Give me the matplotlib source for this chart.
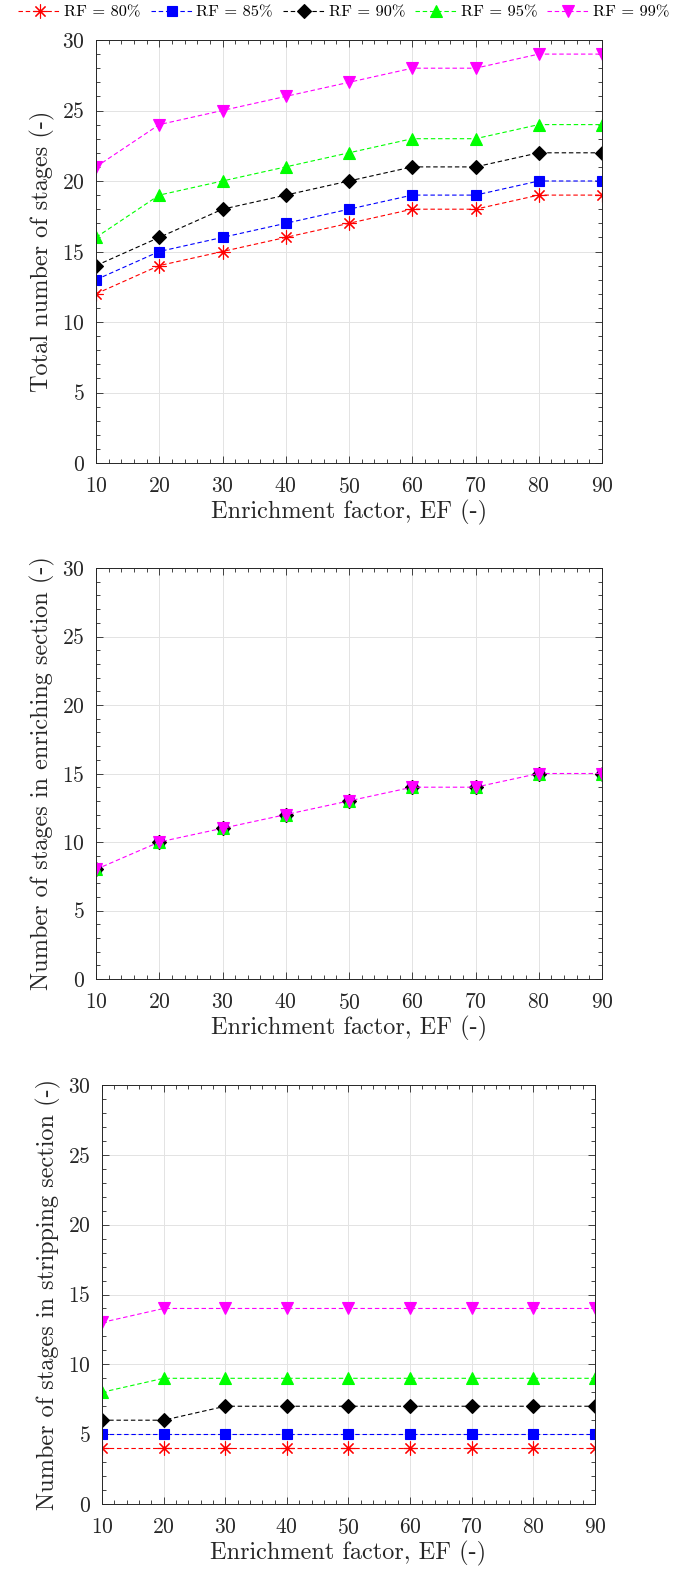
import matplotlib
matplotlib.use("Agg")
import matplotlib.pyplot as plt
from matplotlib.ticker import MultipleLocator

plt.rcParams['font.family'] = ['cmr10', 'DejaVu Serif']
plt.rcParams['axes.formatter.use_mathtext'] = True
plt.rcParams['mathtext.fontset'] = 'cm'

ef = [10, 20, 30, 40, 50, 60, 70, 80, 90]
rf_labels = ['RF = 80%', 'RF = 85%', 'RF = 90%', 'RF = 95%', 'RF = 99%']

# total number of stages
total_80 = [12, 14, 15, 16, 17, 18, 18, 19, 19]
total_85 = [13, 15, 16, 17, 18, 19, 19, 20, 20]
total_90 = [14, 16, 18, 19, 20, 21, 21, 22, 22]
total_95 = [16, 19, 20, 21, 22, 23, 23, 24, 24]
total_99 = [21, 24, 25, 26, 27, 28, 28, 29, 29]

# enriching section (same for all RF)
enrich_80 = [8, 10, 11, 12, 13, 14, 14, 15, 15]
enrich_85 = [8, 10, 11, 12, 13, 14, 14, 15, 15]
enrich_90 = [8, 10, 11, 12, 13, 14, 14, 15, 15]
enrich_95 = [8, 10, 11, 12, 13, 14, 14, 15, 15]
enrich_99 = [8, 10, 11, 12, 13, 14, 14, 15, 15]

# stripping section
strip_80 = [4, 4, 4, 4, 4, 4, 4, 4, 4]
strip_85 = [5, 5, 5, 5, 5, 5, 5, 5, 5]
strip_90 = [6, 6, 7, 7, 7, 7, 7, 7, 7]
strip_95 = [8, 9, 9, 9, 9, 9, 9, 9, 9]
strip_99 = [13, 14, 14, 14, 14, 14, 14, 14, 14]

colors = ['#ff0000', '#0000ff', '#000000', '#00ff00', '#ff00ff']
markers = [(8, 2, 0), 's', 'D', '^', 'v']
msizes = [10, 6.5, 7, 9, 9]


def draw(ax, series, ylabel, overlap=False):
    lines = []
    n = len(series)
    for i, (ys, c, m, s, lab) in enumerate(zip(series, colors, markers, msizes, rf_labels)):
        # identical curves: the top one hides the dashes of the others
        ls = 'none' if (overlap and i < n - 1) else (0, (4, 2.5))
        ln, = ax.plot(ef, ys, ls=ls, lw=0.8, color=c,
                      marker=m, ms=s, mfc=c, mec=c, mew=0.8, label=lab)
        lines.append(ln)
    ax.set_xlim(10, 90)
    ax.set_ylim(0, 30)
    ax.xaxis.set_major_locator(MultipleLocator(10))
    ax.xaxis.set_minor_locator(MultipleLocator(2))
    ax.yaxis.set_major_locator(MultipleLocator(5))
    ax.yaxis.set_minor_locator(MultipleLocator(1))
    ax.tick_params(which='both', direction='in', top=True, right=True,
                   colors='#262626', labelsize=15.5, width=0.6)
    ax.tick_params(which='major', length=5)
    ax.tick_params(which='minor', length=3)
    ax.tick_params(axis='x', which='major', pad=10)
    ax.tick_params(axis='y', which='major', pad=8)
    ax.grid(True, which='major', color='#e3e3e3', lw=0.7)
    ax.set_axisbelow(True)
    for sp in ax.spines.values():
        sp.set_color('#262626')
        sp.set_linewidth(0.7)
    ax.set_xlabel('Enrichment factor, EF (-)', fontsize=17.5, color='#262626',
                  labelpad=2)
    ax.set_ylabel(ylabel, fontsize=17.5, color='#262626', labelpad=5)
    return lines


W, H = 681, 1570
fig = plt.figure(figsize=(W / 100, H / 100), dpi=100)

ax1 = fig.add_axes([96 / W, 1 - 463 / H, 506 / W, 423 / H])
ax2 = fig.add_axes([96 / W, 1 - 979 / H, 506 / W, 411 / H])
ax3 = fig.add_axes([102 / W, 1 - 1504 / H, 493 / W, 419 / H])

lines = draw(ax1, [total_80, total_85, total_90, total_95, total_99],
             'Total number of stages (-)')
draw(ax2, [enrich_80, enrich_85, enrich_90, enrich_95, enrich_99],
     'Number of stages in enriching section (-)', overlap=True)
draw(ax3, [strip_80, strip_85, strip_90, strip_95, strip_99],
     'Number of stages in stripping section (-)')

fig.legend(handles=lines, loc='upper center', bbox_to_anchor=(0.505, 1.003),
           ncol=5, frameon=False, fontsize=11.8, handlelength=2.6,
           handletextpad=0.2, columnspacing=0.6, borderaxespad=0.2)

fig.savefig('out.png', dpi=100)
